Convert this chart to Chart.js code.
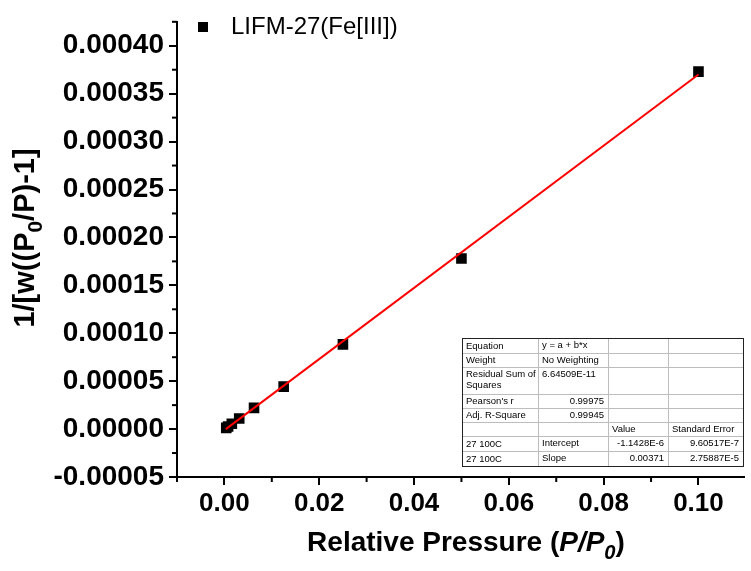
<!DOCTYPE html>
<html><head><meta charset="utf-8">
<script src="https://cdn.jsdelivr.net/npm/chart.js@4/dist/chart.umd.min.js"></script>
<style>html,body{margin:0;padding:0;background:#fff}#wrap{width:751px;height:571px;position:relative}</style>
</head><body><div id="wrap"><canvas id="c" width="751" height="571"></canvas></div>
<script>
// ---- data ----
const pressure = [0.1, 0.05, 0.025, 0.0125, 0.00625, 0.003125, 0.0015625, 0.00078, 0.00039];
const betValue = [0.000373, 0.000178, 0.0000884, 0.0000443, 0.0000221, 0.0000111, 0.0000055, 0.0000027, 0.0000013];
const fitX = [0.0003, 0.1];
const fitY = [-0.00000003, 0.00037];
const xTickValues = [0, 0.02, 0.04, 0.06, 0.08, 0.10];
const xMinorValues = [-0.01, 0.01, 0.03, 0.05, 0.07, 0.09];
const yTickValues = [-0.00005, 0, 0.00005, 0.0001, 0.00015, 0.0002, 0.00025, 0.0003, 0.00035, 0.0004];
const yMinorValues = [-0.000025, 0.000025, 0.000075, 0.000125, 0.000175, 0.000225, 0.000275, 0.000325, 0.000375, 0.000425];
const legendLabel = 'LIFM-27(Fe[III])';
const tableCells = [
  ['Equation', 'y = a + b*x', '', ''],
  ['Weight', 'No Weighting', '', ''],
  ['Residual Sum of\nSquares', '6.64509E-11', '', ''],
  ["Pearson's r", '0.99975', '', ''],
  ['Adj. R-Square', '0.99945', '', ''],
  ['', '', 'Value', 'Standard Error'],
  ['27 100C', 'Intercept', '-1.1428E-6', '9.60517E-7'],
  ['27 100C', 'Slope', '0.00371', '2.75887E-5']
];

const FONT = "'Liberation Sans', Arial, sans-serif";

function drawRich(ctx, parts, size) {
  let w = 0;
  const segs = parts.map(p => {
    const fs = p.sub ? size * 0.72 : size;
    const f = (p.italic ? 'italic ' : '') + 'bold ' + fs + 'px ' + FONT;
    ctx.font = f;
    const mw = ctx.measureText(p.t).width;
    w += mw;
    return {t: p.t, f, mw, dy: p.sub ? size * 0.28 : 0};
  });
  let x = -w / 2;
  ctx.textBaseline = 'alphabetic';
  ctx.textAlign = 'left';
  segs.forEach(s => { ctx.font = s.f; ctx.fillText(s.t, x, s.dy); x += s.mw; });
}

const decor = {
  id: 'decor',
  afterDraw(chart) {
    const ctx = chart.ctx;
    const xs = chart.scales.x, ys = chart.scales.y;
    const area = chart.chartArea;
    ctx.save();
    ctx.strokeStyle = '#000';
    ctx.lineWidth = 2;
    xMinorValues.forEach(v => {
      const px = xs.getPixelForValue(v);
      ctx.beginPath(); ctx.moveTo(px, area.bottom); ctx.lineTo(px, area.bottom + 5); ctx.stroke();
    });
    yMinorValues.forEach(v => {
      const py = ys.getPixelForValue(v);
      ctx.beginPath(); ctx.moveTo(area.left, py); ctx.lineTo(area.left - 5, py); ctx.stroke();
    });
    ctx.fillStyle = '#000';
    ctx.save();
    ctx.translate(466, 551);
    drawRich(ctx, [
      {t: 'Relative Pressure ('},
      {t: 'P/P', italic: true},
      {t: '0', italic: true, sub: true},
      {t: ')'}
    ], 28);
    ctx.restore();
    ctx.save();
    ctx.translate(34, 238);
    ctx.rotate(-Math.PI / 2);
    drawRich(ctx, [
      {t: '1/[w((P'},
      {t: '0', sub: true},
      {t: '/P)-1]'}
    ], 29);
    ctx.restore();
    // legend
    const ds = chart.data.datasets[0];
    ctx.fillStyle = ds.pointBackgroundColor;
    ctx.fillRect(198, 22, 10, 10);
    ctx.fillStyle = '#000';
    ctx.font = '24px ' + FONT;
    ctx.textAlign = 'left';
    ctx.textBaseline = 'middle';
    ctx.fillText(legendLabel, 231, 27);
    // table
    const colX = [462, 538, 608, 668, 743];
    const rowY = [338, 353, 367, 394, 408, 422, 436, 451, 466];
    ctx.fillStyle = '#fff';
    ctx.fillRect(colX[0], rowY[0], colX[4] - colX[0], rowY[8] - rowY[0]);
    ctx.strokeStyle = '#bdbdbd';
    ctx.lineWidth = 1;
    for (let i = 1; i < rowY.length - 1; i++) {
      ctx.beginPath(); ctx.moveTo(colX[0], rowY[i] + 0.5); ctx.lineTo(colX[4], rowY[i] + 0.5); ctx.stroke();
    }
    for (let j = 1; j < colX.length - 1; j++) {
      ctx.beginPath(); ctx.moveTo(colX[j] + 0.5, rowY[0]); ctx.lineTo(colX[j] + 0.5, rowY[8]); ctx.stroke();
    }
    ctx.strokeStyle = '#222';
    ctx.strokeRect(colX[0] + 0.5, rowY[0] + 0.5, colX[4] - colX[0], rowY[8] - rowY[0]);
    ctx.fillStyle = '#000';
    ctx.font = '9.5px ' + FONT;
    ctx.textBaseline = 'top';
    tableCells.forEach((row, r) => {
      row.forEach((txt, c) => {
        if (!txt) return;
        const lines = txt.split('\n');
        const numeric = /^-?[0-9]/.test(txt) && c > 0 && !(r === 2 && c === 1) && !(r === 0);
        lines.forEach((ln, k) => {
          let y = rowY[r] + 3 + k * 11;
          if (c === 0 && lines.length === 1) y = rowY[r] + (rowY[r + 1] - rowY[r]) / 2 - 4;
          if (numeric && r !== 2) {
            ctx.textAlign = 'right';
            ctx.fillText(ln, colX[c + 1] - 4, y);
          } else {
            ctx.textAlign = 'left';
            ctx.fillText(ln, colX[c] + 4, y);
          }
        });
      });
    });
    ctx.restore();
  }
};

new Chart(document.getElementById('c'), {
  type: 'scatter',
  data: {
    datasets: [
      {
        label: legendLabel,
        data: pressure.map((x, i) => ({x, y: betValue[i]})),
        pointStyle: 'rect',
        pointRadius: 7.5,
        pointBackgroundColor: '#000',
        pointBorderColor: '#000',
        pointBorderWidth: 0,
        showLine: false,
        order: 2
      },
      {
        label: 'fit',
        data: fitX.map((x, i) => ({x, y: fitY[i]})),
        showLine: true,
        borderColor: '#ff0000',
        borderWidth: 2,
        pointRadius: 0,
        order: 1
      }
    ]
  },
  options: {
    responsive: false,
    devicePixelRatio: 1,
    animation: false,
    layout: {padding: {top: 13.5, right: 0, left: 0, bottom: 0}},
    plugins: {legend: {display: false}, tooltip: {enabled: false}},
    scales: {
      x: {
        type: 'linear',
        min: -0.01,
        max: 0.1095,
        afterBuildTicks: s => { s.ticks = xTickValues.map(v => ({value: v})); },
        afterFit: s => { s.height = 94; },
        grid: {display: true, drawOnChartArea: false, drawTicks: true, tickLength: 8, color: '#000', lineWidth: 2},
        border: {display: true, color: '#000', width: 2},
        ticks: {font: {family: FONT, size: 26, weight: 'bold'}, color: '#000', padding: 3, maxRotation: 0,
          callback: v => Number(v).toFixed(2)}
      },
      y: {
        type: 'linear',
        min: -0.00005,
        max: 0.000425,
        afterBuildTicks: s => { s.ticks = yTickValues.map(v => ({value: v})); },
        afterFit: s => { s.width = 177; },
        grid: {display: true, drawOnChartArea: false, drawTicks: true, tickLength: 8, color: '#000', lineWidth: 2},
        border: {display: true, color: '#000', width: 2},
        ticks: {font: {family: FONT, size: 28, weight: 'bold'}, color: '#000', padding: 5,
          callback: v => Number(v).toFixed(5)}
      }
    }
  },
  plugins: [decor]
});
</script>
</body></html>
